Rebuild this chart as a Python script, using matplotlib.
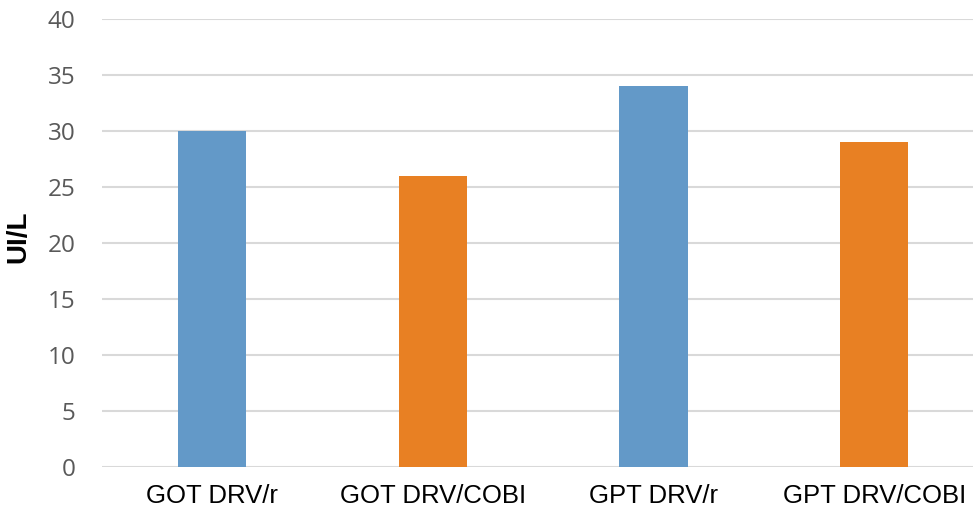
import matplotlib.pyplot as plt
import numpy as np

categories = ["GOT DRV/r", "GOT DRV/COBI", "GPT DRV/r", "GPT DRV/COBI"]
values = [30, 26, 34, 29]
colors = ["#6399C8", "#E88023", "#6399C8", "#E88023"]
yticks = [0, 5, 10, 15, 20, 25, 30, 35, 40]

fig = plt.figure(figsize=(9.73, 5.14), dpi=100)
ax = fig.add_axes([0.1048, 0.0914, 0.8952, 0.8716])

x = np.arange(len(categories))
ax.bar(x, values, width=0.31, color=colors, zorder=3)

ax.set_ylim(0, 40)
ax.set_xlim(-0.5, 3.448)
ax.set_yticks(yticks)
ax.set_xticks(x)
ax.set_xticklabels(categories, fontsize=18.5, family="Liberation Sans", color="black")
for lbl in ax.get_yticklabels():
    lbl.set_fontsize(17.5)
    lbl.set_family("Open Sans")
    lbl.set_color("#595959")

ax.grid(axis="y", color="#D9D9D9", linewidth=1.5, zorder=0)
for s in ax.spines.values():
    s.set_visible(False)
ax.tick_params(length=0)
ax.tick_params(axis="y", pad=19)
ax.tick_params(axis="x", pad=12)

fig.text(18 / 973, 0.539, "UI/L", fontsize=20, fontweight="bold", family="Liberation Sans",
         rotation=90, ha="center", va="center")

fig.savefig("out.png", dpi=100)
